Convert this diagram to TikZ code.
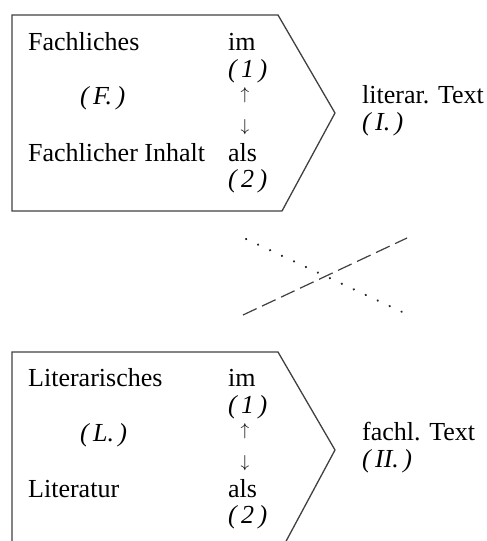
\documentclass[tikz,border=0pt]{standalone}
\usepackage{fontspec}
\setmainfont{Liberation Serif}
\begin{document}
\begin{tikzpicture}[x=1pt,y=-1pt,
  txt/.style={anchor=base west,inner sep=0pt,font=\fontsize{26}{30}\selectfont},
  arr/.style={anchor=center,inner sep=0pt,font=\fontsize{19}{22}\selectfont},
  frame/.style={draw=black!75,line width=1.3pt,line join=miter},
  dashline/.style={draw=black!75,line width=1.2pt,dash pattern=on 15pt off 6pt},
  dotline/.style={draw=black!85,line width=2.2pt,line cap=round,dash pattern=on 0.3pt off 12.9pt}]
\useasboundingbox (0,0) rectangle (487,541);
\clip (0,0) rectangle (487,541);
% top frame
\draw[frame] (12,15) -- (278,15) -- (335,113) -- (282,211) -- (12,211) -- cycle;
% bottom frame (open at the bottom)
\draw[frame] (12,545) -- (12,352) -- (278,352) -- (335,450) -- (284,545);
% top texts
\node[txt] (fa) at (28,50) {Fachliches};
\node[txt] (im1) at (228,50) {im};
\node[txt] (n1a) at (228,77) {\textit{(\,1\,)}};
\node[txt] (F) at (80,104) {\textit{(\,F.\,)}};
\node[arr] (up1) at (245,95) {$\uparrow$};
\node[arr] (dn1) at (245,127) {$\downarrow$};
\node[txt] (fi) at (28,161) {Fachlicher Inhalt};
\node[txt] (als1) at (228,161) {als};
\node[txt] (n2a) at (228,187) {\textit{(\,2\,)}};
\node[txt] (lt) at (362,103) {literar. Text};
\node[txt] (I) at (362,130) {\textit{(\,I.\,)}};
% cross
\coordinate (d1) at (243,315);
\coordinate (d2) at (407,238);
\coordinate (p1) at (246,239);
\coordinate (p2) at (413,317);
\draw[dashline] (d1) -- (d2);
\draw[dotline] (p1) -- (p2);
% bottom texts
\node[txt] (li) at (28,386) {Literarisches};
\node[txt] (im2) at (228,386) {im};
\node[txt] (n1b) at (228,413) {\textit{(\,1\,)}};
\node[txt] (L) at (80,441) {\textit{(\,L.\,)}};
\node[arr] (up2) at (245,431) {$\uparrow$};
\node[arr] (dn2) at (245,463) {$\downarrow$};
\node[txt] (lr) at (28,497) {Literatur};
\node[txt] (als2) at (228,497) {als};
\node[txt] (n2b) at (228,523) {\textit{(\,2\,)}};
\node[txt] (ft) at (362,440) {fachl. Text};
\node[txt] (II) at (362,467) {\textit{(\,II.\,)}};
\end{tikzpicture}
\end{document}
